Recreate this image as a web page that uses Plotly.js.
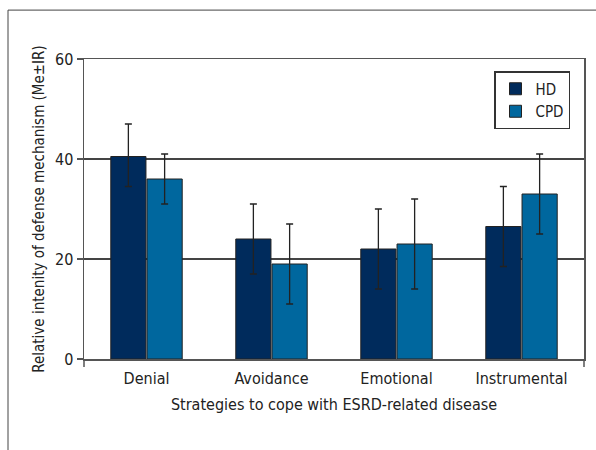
<!DOCTYPE html>
<html>
<head>
<meta charset="utf-8">
<script src="https://cdn.plot.ly/plotly-3.0.1.min.js"></script>
<style>html,body{margin:0;padding:0;background:#fff;}#chart{width:596px;height:450px;}</style>
</head>
<body>
<div id="chart"></div>
<script>
var categories = ["Denial", "Avoidance", "Emotional", "Instrumental"];
var hdValues = [40.5, 24, 22, 26.5];
var hdUpper = [47, 31, 30, 34.5];
var hdLower = [34.5, 17, 14, 18.5];
var cpdValues = [36, 19, 23, 33];
var cpdUpper = [41, 27, 32, 41];
var cpdLower = [31, 11, 14, 25];
var yTicks = [0, 20, 40, 60];

function plus(up, v){ return up.map(function(u,i){ return u - v[i]; }); }
function minus(lo, v){ return lo.map(function(l,i){ return v[i] - l; }); }

var FONT = '"Liberation Sans Narrow", "DejaVu Sans Condensed", "Roboto Condensed", Arial, sans-serif';

var errStyle = {type:'data', symmetric:false, color:'#222', thickness:1.3, width:3.5};

var traces = [
  {type:'bar', name:'HD', x:categories, y:hdValues,
   marker:{color:'#002b5c', line:{color:'#222', width:1}},
   error_y:Object.assign({array:plus(hdUpper,hdValues), arrayminus:minus(hdLower,hdValues)}, errStyle)},
  {type:'bar', name:'CPD', x:categories, y:cpdValues,
   marker:{color:'#00679e', line:{color:'#222', width:1}},
   error_y:Object.assign({array:plus(cpdUpper,cpdValues), arrayminus:minus(cpdLower,cpdValues)}, errStyle)}
];

var layout = {
  width:596, height:450,
  margin:{l:84, r:12, t:59, b:91},
  paper_bgcolor:'#fff', plot_bgcolor:'#fff',
  font:{family:FONT, size:15, color:'#222'},
  barmode:'group', bargap:0.42, bargroupgap:0.03,
  showlegend:true,
  legend:{x:0.82, y:0.96, xanchor:'left', yanchor:'top', bgcolor:'#fff',
          bordercolor:'#333', borderwidth:1.5, font:{size:15, family:FONT},
          traceorder:'normal', itemwidth:30, tracegroupgap:0},
  xaxis:{range:[-0.5,3.5], showline:true, linecolor:'#555', linewidth:1.5, mirror:true,
         ticks:'', showgrid:false, tickfont:{size:16}, ticklabelstandoff:4,
         title:{text:'Strategies to cope with ESRD-related disease', font:{size:16}, standoff:12}},
  yaxis:{range:[0,60], tickvals:yTicks, showline:true, linecolor:'#555', linewidth:1.5, mirror:true,
         ticks:'outside', ticklen:6, tickcolor:'#555', tickwidth:1.3,
         showgrid:true, gridcolor:'#444', gridwidth:1.3, zeroline:false,
         tickfont:{size:16},
         title:{text:'Relative intenity of defense mechanism (Me±IR)', font:{size:15}, standoff:6}},
  shapes:[
    {type:'rect', xref:'paper', yref:'paper', x0:-0.152, x1:1.2, y0:-0.6, y1:1.163,
     line:{color:'#444', width:1}, fillcolor:'rgba(0,0,0,0)', layer:'below'},
    {type:'line', xref:'paper', yref:'paper', x0:0, x1:0, y0:0, y1:-0.027, line:{color:'#555', width:1.5}},
    {type:'line', xref:'paper', yref:'paper', x0:1, x1:1, y0:0, y1:-0.027, line:{color:'#555', width:1.5}}
  ]
};

Plotly.newPlot('chart', traces, layout, {staticPlot:true, displayModeBar:false});
</script>
</body>
</html>
